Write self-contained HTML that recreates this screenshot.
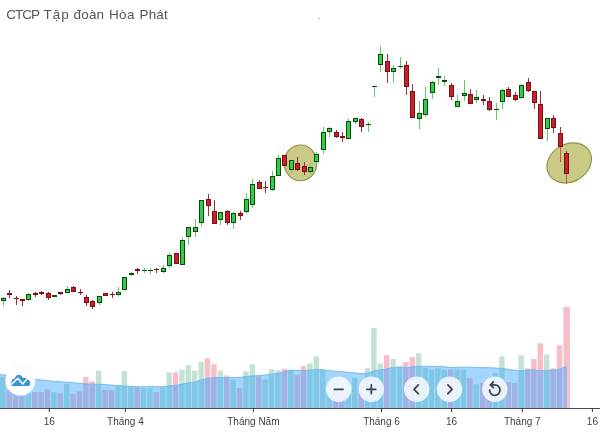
<!DOCTYPE html>
<html lang="vi"><head><meta charset="utf-8"><title>CTCP Tập đoàn Hòa Phát</title>
<style>
html,body{margin:0;padding:0;background:#fff;}
body{width:600px;height:432px;overflow:hidden;position:relative;font-family:"Liberation Sans",sans-serif;}
.title{position:absolute;left:0;top:4.7px;font-size:13.5px;line-height:20px;color:#555;white-space:nowrap;height:20px;width:200px;}
.title span{position:absolute;top:0;}
svg{position:absolute;left:0;top:0;display:block;}
.al{font-family:"Liberation Sans",sans-serif;font-size:10px;fill:#3f3f3f;}
</style></head><body>
<svg width="600" height="432" viewBox="0 0 600 432" shape-rendering="geometricPrecision">
<g id="volume">
<rect x="0.00" y="377.0" width="5.4" height="31.0" fill="#c4e2d2"/>
<rect x="6.40" y="390.0" width="5.4" height="18.0" fill="#f7bec8"/>
<rect x="12.80" y="392.0" width="5.4" height="16.0" fill="#f7bec8"/>
<rect x="19.20" y="396.0" width="5.4" height="12.0" fill="#f7bec8"/>
<rect x="25.60" y="393.7" width="5.4" height="14.3" fill="#c4e2d2"/>
<rect x="32.00" y="392.0" width="5.4" height="16.0" fill="#f7bec8"/>
<rect x="38.40" y="392.0" width="5.4" height="16.0" fill="#f7bec8"/>
<rect x="44.80" y="389.4" width="5.4" height="18.6" fill="#f7bec8"/>
<rect x="51.20" y="392.3" width="5.4" height="15.7" fill="#c4e2d2"/>
<rect x="57.60" y="393.3" width="5.4" height="14.7" fill="#f7bec8"/>
<rect x="64.00" y="384.0" width="5.4" height="24.0" fill="#c4e2d2"/>
<rect x="70.40" y="394.0" width="5.4" height="14.0" fill="#f7bec8"/>
<rect x="76.80" y="391.4" width="5.4" height="16.6" fill="#f7bec8"/>
<rect x="83.20" y="377.0" width="5.4" height="31.0" fill="#f7bec8"/>
<rect x="89.60" y="381.3" width="5.4" height="26.7" fill="#f7bec8"/>
<rect x="96.00" y="370.6" width="5.4" height="37.4" fill="#c4e2d2"/>
<rect x="102.40" y="390.0" width="5.4" height="18.0" fill="#f7bec8"/>
<rect x="108.80" y="390.3" width="5.4" height="17.7" fill="#f7bec8"/>
<rect x="115.20" y="386.0" width="5.4" height="22.0" fill="#c4e2d2"/>
<rect x="121.60" y="371.0" width="5.4" height="37.0" fill="#c4e2d2"/>
<rect x="128.00" y="386.3" width="5.4" height="21.7" fill="#c4e2d2"/>
<rect x="134.40" y="387.4" width="5.4" height="20.6" fill="#f7bec8"/>
<rect x="140.80" y="388.3" width="5.4" height="19.7" fill="#c4e2d2"/>
<rect x="147.20" y="388.3" width="5.4" height="19.7" fill="#c4e2d2"/>
<rect x="153.60" y="392.0" width="5.4" height="16.0" fill="#f7bec8"/>
<rect x="160.00" y="387.4" width="5.4" height="20.6" fill="#c4e2d2"/>
<rect x="166.40" y="372.3" width="5.4" height="35.7" fill="#c4e2d2"/>
<rect x="172.80" y="372.3" width="5.4" height="35.7" fill="#f7bec8"/>
<rect x="179.20" y="369.7" width="5.4" height="38.3" fill="#c4e2d2"/>
<rect x="185.60" y="365.3" width="5.4" height="42.7" fill="#c4e2d2"/>
<rect x="192.00" y="370.6" width="5.4" height="37.4" fill="#c4e2d2"/>
<rect x="198.40" y="361.7" width="5.4" height="46.3" fill="#c4e2d2"/>
<rect x="204.80" y="358.3" width="5.4" height="49.7" fill="#f7bec8"/>
<rect x="211.20" y="364.3" width="5.4" height="43.7" fill="#f7bec8"/>
<rect x="217.60" y="370.6" width="5.4" height="37.4" fill="#c4e2d2"/>
<rect x="224.00" y="375.4" width="5.4" height="32.6" fill="#f7bec8"/>
<rect x="230.40" y="379.7" width="5.4" height="28.3" fill="#c4e2d2"/>
<rect x="236.80" y="388.0" width="5.4" height="20.0" fill="#f7bec8"/>
<rect x="243.20" y="371.4" width="5.4" height="36.6" fill="#c4e2d2"/>
<rect x="249.60" y="364.3" width="5.4" height="43.7" fill="#c4e2d2"/>
<rect x="256.00" y="376.3" width="5.4" height="31.7" fill="#f7bec8"/>
<rect x="262.40" y="379.5" width="5.4" height="28.5" fill="#c4e2d2"/>
<rect x="268.80" y="369.0" width="5.4" height="39.0" fill="#c4e2d2"/>
<rect x="275.20" y="370.3" width="5.4" height="37.7" fill="#c4e2d2"/>
<rect x="281.60" y="368.7" width="5.4" height="39.3" fill="#f7bec8"/>
<rect x="288.00" y="369.7" width="5.4" height="38.3" fill="#c4e2d2"/>
<rect x="294.40" y="375.0" width="5.4" height="33.0" fill="#f7bec8"/>
<rect x="300.80" y="366.0" width="5.4" height="42.0" fill="#f7bec8"/>
<rect x="307.20" y="363.4" width="5.4" height="44.6" fill="#c4e2d2"/>
<rect x="313.60" y="356.3" width="5.4" height="51.7" fill="#c4e2d2"/>
<rect x="320.00" y="369.7" width="5.4" height="38.3" fill="#c4e2d2"/>
<rect x="326.40" y="395.0" width="5.4" height="13.0" fill="#c4e2d2"/>
<rect x="332.80" y="393.0" width="5.4" height="15.0" fill="#f7bec8"/>
<rect x="339.20" y="392.0" width="5.4" height="16.0" fill="#f7bec8"/>
<rect x="345.60" y="390.0" width="5.4" height="18.0" fill="#c4e2d2"/>
<rect x="352.00" y="377.7" width="5.4" height="30.3" fill="#c4e2d2"/>
<rect x="358.40" y="385.0" width="5.4" height="23.0" fill="#f7bec8"/>
<rect x="364.80" y="368.3" width="5.4" height="39.7" fill="#c4e2d2"/>
<rect x="371.20" y="328.0" width="5.4" height="80.0" fill="#c4e2d2"/>
<rect x="377.60" y="363.4" width="5.4" height="44.6" fill="#c4e2d2"/>
<rect x="384.00" y="355.2" width="5.4" height="52.8" fill="#f7bec8"/>
<rect x="390.40" y="359.0" width="5.4" height="49.0" fill="#c4e2d2"/>
<rect x="396.80" y="366.5" width="5.4" height="41.5" fill="#c4e2d2"/>
<rect x="403.20" y="362.2" width="5.4" height="45.8" fill="#f7bec8"/>
<rect x="409.60" y="357.2" width="5.4" height="50.8" fill="#f7bec8"/>
<rect x="416.00" y="353.3" width="5.4" height="54.7" fill="#c4e2d2"/>
<rect x="422.40" y="367.7" width="5.4" height="40.3" fill="#c4e2d2"/>
<rect x="428.80" y="369.7" width="5.4" height="38.3" fill="#c4e2d2"/>
<rect x="435.20" y="368.3" width="5.4" height="39.7" fill="#c4e2d2"/>
<rect x="441.60" y="369.7" width="5.4" height="38.3" fill="#c4e2d2"/>
<rect x="448.00" y="369.7" width="5.4" height="38.3" fill="#f7bec8"/>
<rect x="454.40" y="369.7" width="5.4" height="38.3" fill="#c4e2d2"/>
<rect x="460.80" y="369.7" width="5.4" height="38.3" fill="#c4e2d2"/>
<rect x="467.20" y="378.3" width="5.4" height="29.7" fill="#f7bec8"/>
<rect x="473.60" y="384.3" width="5.4" height="23.7" fill="#c4e2d2"/>
<rect x="480.00" y="383.0" width="5.4" height="25.0" fill="#f7bec8"/>
<rect x="486.40" y="385.0" width="5.4" height="23.0" fill="#f7bec8"/>
<rect x="492.80" y="373.0" width="5.4" height="35.0" fill="#c4e2d2"/>
<rect x="499.20" y="356.3" width="5.4" height="51.7" fill="#c4e2d2"/>
<rect x="505.60" y="382.0" width="5.4" height="26.0" fill="#f7bec8"/>
<rect x="512.00" y="383.0" width="5.4" height="25.0" fill="#f7bec8"/>
<rect x="518.40" y="355.2" width="5.4" height="52.8" fill="#c4e2d2"/>
<rect x="524.80" y="368.3" width="5.4" height="39.7" fill="#f7bec8"/>
<rect x="531.20" y="359.0" width="5.4" height="49.0" fill="#f7bec8"/>
<rect x="537.60" y="343.3" width="5.4" height="64.7" fill="#f7bec8"/>
<rect x="544.00" y="354.4" width="5.4" height="53.6" fill="#c4e2d2"/>
<rect x="550.40" y="368.3" width="5.4" height="39.7" fill="#f7bec8"/>
<rect x="556.80" y="345.3" width="5.4" height="62.7" fill="#f7bec8"/>
<rect x="563.40" y="307.0" width="6.6" height="101.0" fill="#f7bec8"/>
<clipPath id="ac"><polygon points="0,374.6 5,375.1 35,379.3 53,381.3 72,382.6 85,383.9 100,384.3 125,386.0 140,386.9 152,386.6 160,386.9 168,386.0 175,385.3 182,384.3 188,382.9 195,382.0 201,380.0 208,378.3 215,377.7 221,377.6 232,377.6 240,377.3 250,376.0 258,375.7 265,375.0 272,374.0 280,373.0 285,371.3 290,370.3 297,370.3 304,370.6 310,370.0 320,369.6 327,370.3 335,371.3 345,372.0 355,373.0 362,373.6 368,373.0 375,370.6 380,370.0 384,369.6 392,367.7 400,367.0 408,367.7 414,366.6 420,366.3 430,366.3 440,366.6 450,367.3 456,367.7 460,367.3 465,367.0 475,367.6 490,367.7 500,368.3 506,369.0 512,370.0 518,370.6 525,370.3 532,369.8 540,370.6 548,370.3 555,370.0 560,369.0 563,367.7 566.7,366.0 566.7,408 0,408"/></clipPath>
<g clip-path="url(#ac)"><rect x="0" y="300" width="600" height="108" fill="#a2d6fa"/>
<rect x="0.00" y="377.0" width="5.4" height="31.0" fill="#80c7e6"/>
<rect x="6.40" y="390.0" width="5.4" height="18.0" fill="#a1b1e3"/>
<rect x="12.80" y="392.0" width="5.4" height="16.0" fill="#a1b1e3"/>
<rect x="19.20" y="396.0" width="5.4" height="12.0" fill="#a1b1e3"/>
<rect x="25.60" y="393.7" width="5.4" height="14.3" fill="#80c7e6"/>
<rect x="32.00" y="392.0" width="5.4" height="16.0" fill="#a1b1e3"/>
<rect x="38.40" y="392.0" width="5.4" height="16.0" fill="#a1b1e3"/>
<rect x="44.80" y="389.4" width="5.4" height="18.6" fill="#a1b1e3"/>
<rect x="51.20" y="392.3" width="5.4" height="15.7" fill="#80c7e6"/>
<rect x="57.60" y="393.3" width="5.4" height="14.7" fill="#a1b1e3"/>
<rect x="64.00" y="384.0" width="5.4" height="24.0" fill="#80c7e6"/>
<rect x="70.40" y="394.0" width="5.4" height="14.0" fill="#a1b1e3"/>
<rect x="76.80" y="391.4" width="5.4" height="16.6" fill="#a1b1e3"/>
<rect x="83.20" y="377.0" width="5.4" height="31.0" fill="#a1b1e3"/>
<rect x="89.60" y="381.3" width="5.4" height="26.7" fill="#a1b1e3"/>
<rect x="96.00" y="370.6" width="5.4" height="37.4" fill="#80c7e6"/>
<rect x="102.40" y="390.0" width="5.4" height="18.0" fill="#a1b1e3"/>
<rect x="108.80" y="390.3" width="5.4" height="17.7" fill="#a1b1e3"/>
<rect x="115.20" y="386.0" width="5.4" height="22.0" fill="#80c7e6"/>
<rect x="121.60" y="371.0" width="5.4" height="37.0" fill="#80c7e6"/>
<rect x="128.00" y="386.3" width="5.4" height="21.7" fill="#80c7e6"/>
<rect x="134.40" y="387.4" width="5.4" height="20.6" fill="#a1b1e3"/>
<rect x="140.80" y="388.3" width="5.4" height="19.7" fill="#80c7e6"/>
<rect x="147.20" y="388.3" width="5.4" height="19.7" fill="#80c7e6"/>
<rect x="153.60" y="392.0" width="5.4" height="16.0" fill="#a1b1e3"/>
<rect x="160.00" y="387.4" width="5.4" height="20.6" fill="#80c7e6"/>
<rect x="166.40" y="372.3" width="5.4" height="35.7" fill="#80c7e6"/>
<rect x="172.80" y="372.3" width="5.4" height="35.7" fill="#a1b1e3"/>
<rect x="179.20" y="369.7" width="5.4" height="38.3" fill="#80c7e6"/>
<rect x="185.60" y="365.3" width="5.4" height="42.7" fill="#80c7e6"/>
<rect x="192.00" y="370.6" width="5.4" height="37.4" fill="#80c7e6"/>
<rect x="198.40" y="361.7" width="5.4" height="46.3" fill="#80c7e6"/>
<rect x="204.80" y="358.3" width="5.4" height="49.7" fill="#a1b1e3"/>
<rect x="211.20" y="364.3" width="5.4" height="43.7" fill="#a1b1e3"/>
<rect x="217.60" y="370.6" width="5.4" height="37.4" fill="#80c7e6"/>
<rect x="224.00" y="375.4" width="5.4" height="32.6" fill="#a1b1e3"/>
<rect x="230.40" y="379.7" width="5.4" height="28.3" fill="#80c7e6"/>
<rect x="236.80" y="388.0" width="5.4" height="20.0" fill="#a1b1e3"/>
<rect x="243.20" y="371.4" width="5.4" height="36.6" fill="#80c7e6"/>
<rect x="249.60" y="364.3" width="5.4" height="43.7" fill="#80c7e6"/>
<rect x="256.00" y="376.3" width="5.4" height="31.7" fill="#a1b1e3"/>
<rect x="262.40" y="379.5" width="5.4" height="28.5" fill="#80c7e6"/>
<rect x="268.80" y="369.0" width="5.4" height="39.0" fill="#80c7e6"/>
<rect x="275.20" y="370.3" width="5.4" height="37.7" fill="#80c7e6"/>
<rect x="281.60" y="368.7" width="5.4" height="39.3" fill="#a1b1e3"/>
<rect x="288.00" y="369.7" width="5.4" height="38.3" fill="#80c7e6"/>
<rect x="294.40" y="375.0" width="5.4" height="33.0" fill="#a1b1e3"/>
<rect x="300.80" y="366.0" width="5.4" height="42.0" fill="#a1b1e3"/>
<rect x="307.20" y="363.4" width="5.4" height="44.6" fill="#80c7e6"/>
<rect x="313.60" y="356.3" width="5.4" height="51.7" fill="#80c7e6"/>
<rect x="320.00" y="369.7" width="5.4" height="38.3" fill="#80c7e6"/>
<rect x="326.40" y="395.0" width="5.4" height="13.0" fill="#80c7e6"/>
<rect x="332.80" y="393.0" width="5.4" height="15.0" fill="#a1b1e3"/>
<rect x="339.20" y="392.0" width="5.4" height="16.0" fill="#a1b1e3"/>
<rect x="345.60" y="390.0" width="5.4" height="18.0" fill="#80c7e6"/>
<rect x="352.00" y="377.7" width="5.4" height="30.3" fill="#80c7e6"/>
<rect x="358.40" y="385.0" width="5.4" height="23.0" fill="#a1b1e3"/>
<rect x="364.80" y="368.3" width="5.4" height="39.7" fill="#80c7e6"/>
<rect x="371.20" y="328.0" width="5.4" height="80.0" fill="#80c7e6"/>
<rect x="377.60" y="363.4" width="5.4" height="44.6" fill="#80c7e6"/>
<rect x="384.00" y="355.2" width="5.4" height="52.8" fill="#a1b1e3"/>
<rect x="390.40" y="359.0" width="5.4" height="49.0" fill="#80c7e6"/>
<rect x="396.80" y="366.5" width="5.4" height="41.5" fill="#80c7e6"/>
<rect x="403.20" y="362.2" width="5.4" height="45.8" fill="#a1b1e3"/>
<rect x="409.60" y="357.2" width="5.4" height="50.8" fill="#a1b1e3"/>
<rect x="416.00" y="353.3" width="5.4" height="54.7" fill="#80c7e6"/>
<rect x="422.40" y="367.7" width="5.4" height="40.3" fill="#80c7e6"/>
<rect x="428.80" y="369.7" width="5.4" height="38.3" fill="#80c7e6"/>
<rect x="435.20" y="368.3" width="5.4" height="39.7" fill="#80c7e6"/>
<rect x="441.60" y="369.7" width="5.4" height="38.3" fill="#80c7e6"/>
<rect x="448.00" y="369.7" width="5.4" height="38.3" fill="#a1b1e3"/>
<rect x="454.40" y="369.7" width="5.4" height="38.3" fill="#80c7e6"/>
<rect x="460.80" y="369.7" width="5.4" height="38.3" fill="#80c7e6"/>
<rect x="467.20" y="378.3" width="5.4" height="29.7" fill="#a1b1e3"/>
<rect x="473.60" y="384.3" width="5.4" height="23.7" fill="#80c7e6"/>
<rect x="480.00" y="383.0" width="5.4" height="25.0" fill="#a1b1e3"/>
<rect x="486.40" y="385.0" width="5.4" height="23.0" fill="#a1b1e3"/>
<rect x="492.80" y="373.0" width="5.4" height="35.0" fill="#80c7e6"/>
<rect x="499.20" y="356.3" width="5.4" height="51.7" fill="#80c7e6"/>
<rect x="505.60" y="382.0" width="5.4" height="26.0" fill="#a1b1e3"/>
<rect x="512.00" y="383.0" width="5.4" height="25.0" fill="#a1b1e3"/>
<rect x="518.40" y="355.2" width="5.4" height="52.8" fill="#80c7e6"/>
<rect x="524.80" y="368.3" width="5.4" height="39.7" fill="#a1b1e3"/>
<rect x="531.20" y="359.0" width="5.4" height="49.0" fill="#a1b1e3"/>
<rect x="537.60" y="343.3" width="5.4" height="64.7" fill="#a1b1e3"/>
<rect x="544.00" y="354.4" width="5.4" height="53.6" fill="#80c7e6"/>
<rect x="550.40" y="368.3" width="5.4" height="39.7" fill="#a1b1e3"/>
<rect x="556.80" y="345.3" width="5.4" height="62.7" fill="#a1b1e3"/>
<rect x="563.40" y="307.0" width="6.6" height="101.0" fill="#a1b1e3"/></g>
<polyline points="0,374.6 5,375.1 35,379.3 53,381.3 72,382.6 85,383.9 100,384.3 125,386.0 140,386.9 152,386.6 160,386.9 168,386.0 175,385.3 182,384.3 188,382.9 195,382.0 201,380.0 208,378.3 215,377.7 221,377.6 232,377.6 240,377.3 250,376.0 258,375.7 265,375.0 272,374.0 280,373.0 285,371.3 290,370.3 297,370.3 304,370.6 310,370.0 320,369.6 327,370.3 335,371.3 345,372.0 355,373.0 362,373.6 368,373.0 375,370.6 380,370.0 384,369.6 392,367.7 400,367.0 408,367.7 414,366.6 420,366.3 430,366.3 440,366.6 450,367.3 456,367.7 460,367.3 465,367.0 475,367.6 490,367.7 500,368.3 506,369.0 512,370.0 518,370.6 525,370.3 532,369.8 540,370.6 548,370.3 555,370.0 560,369.0 563,367.7 566.7,366.0" fill="none" stroke="#78baef" stroke-width="1"/>
</g>
<g id="candles">
<ellipse cx="300.5" cy="162.9" rx="16.3" ry="17.9" fill="#c8ca86" stroke="#8c9040" stroke-width="1.1"/>
<ellipse cx="569.2" cy="162.9" rx="23.3" ry="18.8" transform="rotate(-30 569.2 162.9)" fill="#c8ca86" stroke="#8c9040" stroke-width="1.1"/>
<rect x="3" y="297" width="1" height="9" fill="#62c96e"/>
<rect x="1" y="298" width="5" height="3" fill="#0a4a0e"/>
<rect x="2" y="299" width="3" height="1" fill="#34cc44"/>
<rect x="9" y="290" width="1" height="8" fill="#9c3038"/>
<rect x="7" y="293" width="5" height="2" fill="#7a1015"/>
<rect x="16" y="296" width="1" height="9" fill="#9c3038"/>
<rect x="14" y="298" width="5" height="1" fill="#7a1015"/>
<rect x="22" y="299" width="1" height="7" fill="#9c3038"/>
<rect x="20" y="299" width="5" height="2" fill="#7a1015"/>
<rect x="28" y="293" width="1" height="8" fill="#62c96e"/>
<rect x="26" y="294" width="5" height="6" fill="#0a4a0e"/>
<rect x="27" y="295" width="3" height="4" fill="#34cc44"/>
<rect x="35" y="292" width="1" height="5" fill="#9c3038"/>
<rect x="33" y="293" width="5" height="2" fill="#7a1015"/>
<rect x="41" y="291" width="1" height="4" fill="#9c3038"/>
<rect x="39" y="292" width="5" height="2" fill="#7a1015"/>
<rect x="48" y="292" width="1" height="8" fill="#9c3038"/>
<rect x="46" y="293" width="5" height="5" fill="#7a1015"/>
<rect x="47" y="294" width="3" height="3" fill="#c8202a"/>
<rect x="54" y="295" width="1" height="2" fill="#62c96e"/>
<rect x="52" y="295" width="5" height="2" fill="#0a4a0e"/>
<rect x="60" y="292" width="1" height="3" fill="#9c3038"/>
<rect x="58" y="292" width="5" height="2" fill="#7a1015"/>
<rect x="67" y="286" width="1" height="7" fill="#62c96e"/>
<rect x="65" y="289" width="5" height="4" fill="#0a4a0e"/>
<rect x="66" y="290" width="3" height="2" fill="#34cc44"/>
<rect x="73" y="286" width="1" height="6" fill="#9c3038"/>
<rect x="71" y="287" width="5" height="5" fill="#7a1015"/>
<rect x="72" y="288" width="3" height="3" fill="#c8202a"/>
<rect x="80" y="289" width="1" height="6" fill="#9c3038"/>
<rect x="78" y="292" width="5" height="1" fill="#7a1015"/>
<rect x="86" y="295" width="1" height="11" fill="#9c3038"/>
<rect x="84" y="297" width="5" height="6" fill="#7a1015"/>
<rect x="85" y="298" width="3" height="4" fill="#c8202a"/>
<rect x="92" y="300" width="1" height="9" fill="#9c3038"/>
<rect x="90" y="301" width="5" height="6" fill="#7a1015"/>
<rect x="91" y="302" width="3" height="4" fill="#c8202a"/>
<rect x="99" y="296" width="1" height="9" fill="#62c96e"/>
<rect x="97" y="296" width="5" height="7" fill="#0a4a0e"/>
<rect x="98" y="297" width="3" height="5" fill="#34cc44"/>
<rect x="105" y="293" width="1" height="3" fill="#9c3038"/>
<rect x="103" y="293" width="5" height="3" fill="#7a1015"/>
<rect x="104" y="294" width="3" height="1" fill="#c8202a"/>
<rect x="112" y="292" width="1" height="6" fill="#9c3038"/>
<rect x="110" y="294" width="5" height="1" fill="#7a1015"/>
<rect x="118" y="287" width="1" height="9" fill="#62c96e"/>
<rect x="116" y="292" width="5" height="3" fill="#0a4a0e"/>
<rect x="117" y="293" width="3" height="1" fill="#34cc44"/>
<rect x="124" y="277" width="1" height="13" fill="#62c96e"/>
<rect x="122" y="277" width="5" height="13" fill="#0a4a0e"/>
<rect x="123" y="278" width="3" height="11" fill="#34cc44"/>
<rect x="131" y="272" width="1" height="4" fill="#62c96e"/>
<rect x="129" y="273" width="5" height="2" fill="#0a4a0e"/>
<rect x="137" y="268" width="1" height="6" fill="#9c3038"/>
<rect x="135" y="269" width="5" height="2" fill="#7a1015"/>
<rect x="144" y="268" width="1" height="5" fill="#62c96e"/>
<rect x="142" y="270" width="5" height="1" fill="#0a4a0e"/>
<rect x="150" y="268" width="1" height="6" fill="#62c96e"/>
<rect x="148" y="270" width="5" height="1" fill="#0a4a0e"/>
<rect x="156" y="268" width="1" height="5" fill="#9c3038"/>
<rect x="154" y="269" width="5" height="1" fill="#7a1015"/>
<rect x="163" y="265" width="1" height="8" fill="#62c96e"/>
<rect x="161" y="268" width="5" height="4" fill="#0a4a0e"/>
<rect x="162" y="269" width="3" height="2" fill="#34cc44"/>
<rect x="169" y="253" width="1" height="15" fill="#62c96e"/>
<rect x="167" y="255" width="5" height="11" fill="#0a4a0e"/>
<rect x="168" y="256" width="3" height="9" fill="#34cc44"/>
<rect x="176" y="253" width="1" height="11" fill="#9c3038"/>
<rect x="174" y="253" width="5" height="11" fill="#7a1015"/>
<rect x="175" y="254" width="3" height="9" fill="#c8202a"/>
<rect x="182" y="237" width="1" height="28" fill="#62c96e"/>
<rect x="180" y="240" width="5" height="25" fill="#0a4a0e"/>
<rect x="181" y="241" width="3" height="23" fill="#34cc44"/>
<rect x="188" y="227" width="1" height="18" fill="#62c96e"/>
<rect x="186" y="227" width="5" height="10" fill="#0a4a0e"/>
<rect x="187" y="228" width="3" height="8" fill="#34cc44"/>
<rect x="195" y="219" width="1" height="18" fill="#62c96e"/>
<rect x="193" y="227" width="5" height="5" fill="#0a4a0e"/>
<rect x="194" y="228" width="3" height="3" fill="#34cc44"/>
<rect x="201" y="200" width="1" height="27" fill="#62c96e"/>
<rect x="199" y="200" width="5" height="23" fill="#0a4a0e"/>
<rect x="200" y="201" width="3" height="21" fill="#34cc44"/>
<rect x="208" y="194" width="1" height="22" fill="#9c3038"/>
<rect x="206" y="199" width="5" height="7" fill="#7a1015"/>
<rect x="207" y="200" width="3" height="5" fill="#c8202a"/>
<rect x="214" y="200" width="1" height="24" fill="#9c3038"/>
<rect x="212" y="211" width="5" height="13" fill="#7a1015"/>
<rect x="213" y="212" width="3" height="11" fill="#c8202a"/>
<rect x="220" y="212" width="1" height="13" fill="#62c96e"/>
<rect x="218" y="212" width="5" height="8" fill="#0a4a0e"/>
<rect x="219" y="213" width="3" height="6" fill="#34cc44"/>
<rect x="227" y="210" width="1" height="15" fill="#9c3038"/>
<rect x="225" y="211" width="5" height="12" fill="#7a1015"/>
<rect x="226" y="212" width="3" height="10" fill="#c8202a"/>
<rect x="233" y="212" width="1" height="17" fill="#62c96e"/>
<rect x="231" y="213" width="5" height="10" fill="#0a4a0e"/>
<rect x="232" y="214" width="3" height="8" fill="#34cc44"/>
<rect x="240" y="211" width="1" height="9" fill="#9c3038"/>
<rect x="238" y="213" width="5" height="3" fill="#7a1015"/>
<rect x="239" y="214" width="3" height="1" fill="#c8202a"/>
<rect x="246" y="193" width="1" height="20" fill="#62c96e"/>
<rect x="244" y="199" width="5" height="13" fill="#0a4a0e"/>
<rect x="245" y="200" width="3" height="11" fill="#34cc44"/>
<rect x="252" y="179" width="1" height="29" fill="#62c96e"/>
<rect x="250" y="184" width="5" height="21" fill="#0a4a0e"/>
<rect x="251" y="185" width="3" height="19" fill="#34cc44"/>
<rect x="259" y="180" width="1" height="9" fill="#9c3038"/>
<rect x="257" y="182" width="5" height="7" fill="#7a1015"/>
<rect x="258" y="183" width="3" height="5" fill="#c8202a"/>
<rect x="265" y="181" width="1" height="12" fill="#9c3038"/>
<rect x="263" y="187" width="5" height="1" fill="#7a1015"/>
<rect x="272" y="171" width="1" height="20" fill="#62c96e"/>
<rect x="270" y="176" width="5" height="14" fill="#0a4a0e"/>
<rect x="271" y="177" width="3" height="12" fill="#34cc44"/>
<rect x="278" y="155" width="1" height="21" fill="#62c96e"/>
<rect x="276" y="158" width="5" height="18" fill="#0a4a0e"/>
<rect x="277" y="159" width="3" height="16" fill="#34cc44"/>
<rect x="284" y="155" width="1" height="11" fill="#9c3038"/>
<rect x="282" y="155" width="5" height="11" fill="#7a1015"/>
<rect x="283" y="156" width="3" height="9" fill="#c8202a"/>
<rect x="291" y="160" width="1" height="13" fill="#62c96e"/>
<rect x="289" y="160" width="5" height="10" fill="#0a4a0e"/>
<rect x="290" y="161" width="3" height="8" fill="#34cc44"/>
<rect x="297" y="157" width="1" height="14" fill="#9c3038"/>
<rect x="295" y="163" width="5" height="7" fill="#7a1015"/>
<rect x="296" y="164" width="3" height="5" fill="#c8202a"/>
<rect x="304" y="162" width="1" height="13" fill="#9c3038"/>
<rect x="302" y="166" width="5" height="6" fill="#7a1015"/>
<rect x="303" y="167" width="3" height="4" fill="#c8202a"/>
<rect x="310" y="163" width="1" height="11" fill="#62c96e"/>
<rect x="308" y="167" width="5" height="5" fill="#0a4a0e"/>
<rect x="309" y="168" width="3" height="3" fill="#34cc44"/>
<rect x="316" y="152" width="1" height="11" fill="#62c96e"/>
<rect x="314" y="154" width="5" height="8" fill="#0a4a0e"/>
<rect x="315" y="155" width="3" height="6" fill="#34cc44"/>
<rect x="323" y="127" width="1" height="27" fill="#62c96e"/>
<rect x="321" y="132" width="5" height="18" fill="#0a4a0e"/>
<rect x="322" y="133" width="3" height="16" fill="#34cc44"/>
<rect x="329" y="127" width="1" height="10" fill="#62c96e"/>
<rect x="327" y="128" width="5" height="4" fill="#0a4a0e"/>
<rect x="328" y="129" width="3" height="2" fill="#34cc44"/>
<rect x="336" y="130" width="1" height="8" fill="#9c3038"/>
<rect x="334" y="132" width="5" height="5" fill="#7a1015"/>
<rect x="335" y="133" width="3" height="3" fill="#c8202a"/>
<rect x="342" y="132" width="1" height="10" fill="#9c3038"/>
<rect x="340" y="136" width="5" height="2" fill="#7a1015"/>
<rect x="348" y="119" width="1" height="20" fill="#62c96e"/>
<rect x="346" y="121" width="5" height="18" fill="#0a4a0e"/>
<rect x="347" y="122" width="3" height="16" fill="#34cc44"/>
<rect x="355" y="118" width="1" height="6" fill="#62c96e"/>
<rect x="353" y="118" width="5" height="4" fill="#0a4a0e"/>
<rect x="354" y="119" width="3" height="2" fill="#34cc44"/>
<rect x="361" y="118" width="1" height="14" fill="#9c3038"/>
<rect x="359" y="119" width="5" height="8" fill="#7a1015"/>
<rect x="360" y="120" width="3" height="6" fill="#c8202a"/>
<rect x="368" y="122" width="1" height="10" fill="#62c96e"/>
<rect x="366" y="124" width="5" height="1" fill="#0a4a0e"/>
<rect x="374" y="86" width="1" height="11" fill="#62c96e"/>
<rect x="372" y="86" width="5" height="1" fill="#0a4a0e"/>
<rect x="380" y="46" width="1" height="26" fill="#62c96e"/>
<rect x="378" y="54" width="5" height="11" fill="#0a4a0e"/>
<rect x="379" y="55" width="3" height="9" fill="#34cc44"/>
<rect x="387" y="54" width="1" height="29" fill="#9c3038"/>
<rect x="385" y="61" width="5" height="11" fill="#7a1015"/>
<rect x="386" y="62" width="3" height="9" fill="#c8202a"/>
<rect x="393" y="65" width="1" height="18" fill="#62c96e"/>
<rect x="391" y="68" width="5" height="4" fill="#0a4a0e"/>
<rect x="392" y="69" width="3" height="2" fill="#34cc44"/>
<rect x="400" y="57" width="1" height="12" fill="#62c96e"/>
<rect x="398" y="66" width="5" height="1" fill="#0a4a0e"/>
<rect x="406" y="61" width="1" height="34" fill="#9c3038"/>
<rect x="404" y="65" width="5" height="22" fill="#7a1015"/>
<rect x="405" y="66" width="3" height="20" fill="#c8202a"/>
<rect x="412" y="84" width="1" height="34" fill="#9c3038"/>
<rect x="410" y="91" width="5" height="27" fill="#7a1015"/>
<rect x="411" y="92" width="3" height="25" fill="#c8202a"/>
<rect x="419" y="101" width="1" height="28" fill="#62c96e"/>
<rect x="417" y="113" width="5" height="6" fill="#0a4a0e"/>
<rect x="418" y="114" width="3" height="4" fill="#34cc44"/>
<rect x="425" y="87" width="1" height="30" fill="#62c96e"/>
<rect x="423" y="99" width="5" height="16" fill="#0a4a0e"/>
<rect x="424" y="100" width="3" height="14" fill="#34cc44"/>
<rect x="432" y="81" width="1" height="18" fill="#62c96e"/>
<rect x="430" y="82" width="5" height="11" fill="#0a4a0e"/>
<rect x="431" y="83" width="3" height="9" fill="#34cc44"/>
<rect x="438" y="68" width="1" height="17" fill="#62c96e"/>
<rect x="436" y="76" width="5" height="2" fill="#0a4a0e"/>
<rect x="444" y="76" width="1" height="10" fill="#62c96e"/>
<rect x="442" y="80" width="5" height="2" fill="#0a4a0e"/>
<rect x="451" y="83" width="1" height="17" fill="#9c3038"/>
<rect x="449" y="85" width="5" height="12" fill="#7a1015"/>
<rect x="450" y="86" width="3" height="10" fill="#c8202a"/>
<rect x="457" y="95" width="1" height="12" fill="#62c96e"/>
<rect x="455" y="101" width="5" height="6" fill="#0a4a0e"/>
<rect x="456" y="102" width="3" height="4" fill="#34cc44"/>
<rect x="464" y="80" width="1" height="21" fill="#62c96e"/>
<rect x="462" y="93" width="5" height="3" fill="#0a4a0e"/>
<rect x="463" y="94" width="3" height="1" fill="#34cc44"/>
<rect x="470" y="89" width="1" height="15" fill="#9c3038"/>
<rect x="468" y="94" width="5" height="10" fill="#7a1015"/>
<rect x="469" y="95" width="3" height="8" fill="#c8202a"/>
<rect x="476" y="90" width="1" height="13" fill="#62c96e"/>
<rect x="474" y="97" width="5" height="3" fill="#0a4a0e"/>
<rect x="475" y="98" width="3" height="1" fill="#34cc44"/>
<rect x="483" y="95" width="1" height="10" fill="#9c3038"/>
<rect x="481" y="99" width="5" height="2" fill="#7a1015"/>
<rect x="489" y="97" width="1" height="14" fill="#9c3038"/>
<rect x="487" y="101" width="5" height="9" fill="#7a1015"/>
<rect x="488" y="102" width="3" height="7" fill="#c8202a"/>
<rect x="496" y="103" width="1" height="17" fill="#62c96e"/>
<rect x="494" y="109" width="5" height="1" fill="#0a4a0e"/>
<rect x="502" y="89" width="1" height="20" fill="#62c96e"/>
<rect x="500" y="90" width="5" height="12" fill="#0a4a0e"/>
<rect x="501" y="91" width="3" height="10" fill="#34cc44"/>
<rect x="508" y="87" width="1" height="10" fill="#9c3038"/>
<rect x="506" y="89" width="5" height="8" fill="#7a1015"/>
<rect x="507" y="90" width="3" height="6" fill="#c8202a"/>
<rect x="515" y="92" width="1" height="9" fill="#9c3038"/>
<rect x="513" y="95" width="5" height="5" fill="#7a1015"/>
<rect x="514" y="96" width="3" height="3" fill="#c8202a"/>
<rect x="521" y="84" width="1" height="15" fill="#62c96e"/>
<rect x="519" y="85" width="5" height="13" fill="#0a4a0e"/>
<rect x="520" y="86" width="3" height="11" fill="#34cc44"/>
<rect x="528" y="78" width="1" height="14" fill="#9c3038"/>
<rect x="526" y="82" width="5" height="9" fill="#7a1015"/>
<rect x="527" y="83" width="3" height="7" fill="#c8202a"/>
<rect x="534" y="91" width="1" height="18" fill="#9c3038"/>
<rect x="532" y="91" width="5" height="12" fill="#7a1015"/>
<rect x="533" y="92" width="3" height="10" fill="#c8202a"/>
<rect x="540" y="91" width="1" height="48" fill="#9c3038"/>
<rect x="538" y="104" width="5" height="35" fill="#7a1015"/>
<rect x="539" y="105" width="3" height="33" fill="#c8202a"/>
<rect x="547" y="118" width="1" height="23" fill="#62c96e"/>
<rect x="545" y="118" width="5" height="11" fill="#0a4a0e"/>
<rect x="546" y="119" width="3" height="9" fill="#34cc44"/>
<rect x="553" y="115" width="1" height="18" fill="#9c3038"/>
<rect x="551" y="118" width="5" height="10" fill="#7a1015"/>
<rect x="552" y="119" width="3" height="8" fill="#c8202a"/>
<rect x="560" y="127" width="1" height="35" fill="#9c3038"/>
<rect x="558" y="133" width="5" height="14" fill="#7a1015"/>
<rect x="559" y="134" width="3" height="12" fill="#c8202a"/>
<rect x="566" y="151" width="1" height="33" fill="#9c3038"/>
<rect x="564" y="153" width="5" height="21" fill="#7a1015"/>
<rect x="565" y="154" width="3" height="19" fill="#c8202a"/>
<rect x="560" y="147" width="1" height="14" fill="#c0622c"/>
<rect x="566" y="174" width="1" height="10" fill="#b8602a"/>
</g>
<rect x="318" y="18" width="2" height="1" fill="#b4b4b4"/>
<g id="axis">
<rect x="0" y="408" width="600" height="1" fill="#4a4a4a"/>
<rect x="48.8" y="408" width="1" height="4" fill="#333"/>
<text x="49.3" y="425.4" text-anchor="middle" class="al">16</text>
<rect x="124.9" y="408" width="1" height="4" fill="#333"/>
<text x="125.4" y="425.4" text-anchor="middle" class="al">Tháng 4</text>
<rect x="252.9" y="408" width="1" height="4" fill="#333"/>
<text x="253.4" y="425.4" text-anchor="middle" class="al">Tháng Năm</text>
<rect x="381.0" y="408" width="1" height="4" fill="#333"/>
<text x="381.5" y="425.4" text-anchor="middle" class="al">Tháng 6</text>
<rect x="451.1" y="408" width="1" height="4" fill="#333"/>
<text x="451.6" y="425.4" text-anchor="middle" class="al">16</text>
<rect x="521.8" y="408" width="1" height="4" fill="#333"/>
<text x="522.3" y="425.4" text-anchor="middle" class="al">Tháng 7</text>
<rect x="591.9" y="408" width="1" height="4" fill="#333"/>
<text x="592.4" y="425.4" text-anchor="middle" class="al">16</text>
</g>
<g id="buttons">
<g transform="translate(338.7,389.3)"><circle r="12.7" fill="#fbfaff" fill-opacity="0.84"/><path d="M-4.4,0H4.4" stroke="#3f434a" stroke-width="1.8" fill="none" stroke-linecap="round" stroke-linejoin="round"/></g>
<g transform="translate(371.3,389.3)"><circle r="12.7" fill="#fbfaff" fill-opacity="0.84"/><path d="M-4.4,0H4.4M0,-4.4V4.4" stroke="#3f434a" stroke-width="1.8" fill="none" stroke-linecap="round" stroke-linejoin="round"/></g>
<g transform="translate(416.7,389.3)"><circle r="12.7" fill="#fbfaff" fill-opacity="0.84"/><path d="M1.6,-4.4L-2.6,0L1.6,4.4" stroke="#3f434a" stroke-width="1.8" fill="none" stroke-linecap="round" stroke-linejoin="round"/></g>
<g transform="translate(449.5,389.3)"><circle r="12.7" fill="#fbfaff" fill-opacity="0.84"/><path d="M-1.6,-4.4L2.6,0L-1.6,4.4" stroke="#3f434a" stroke-width="1.8" fill="none" stroke-linecap="round" stroke-linejoin="round"/></g>
<g transform="translate(494.8,389.3)"><circle r="12.7" fill="#fbfaff" fill-opacity="0.84"/><path d="M-4.2,-4.4H0A5.2,5.2 0 1 1 -5.2,0.8" stroke="#3f434a" stroke-width="1.8" fill="none" stroke-linecap="round" stroke-linejoin="round"/><path d="M-1.5,-7.3L-4.3,-4.4L-1.4,-1.6" stroke="#3f434a" stroke-width="1.8" fill="none" stroke-linecap="round" stroke-linejoin="round"/></g>
</g>
<g>
<circle cx="20.3" cy="380.8" r="15.3" fill="#e6edf4" fill-opacity="0.55"/>
<circle cx="20.3" cy="380.7" r="14.5" fill="#fff"/>
<path d="M12.2,386 C10.6,386 10.3,382.6 11.6,381.4 C11.8,379.6 13.4,378.5 14.6,378.8 C15.2,376.4 17,374.8 18.6,374.8 C20.6,374.8 22.4,376.4 23,378.3 C24,377.5 26,377.5 27.2,378.5 C29,379.6 30.4,381.6 30.2,383.4 C30.2,385 29.4,386 28,386 Z" fill="#3a96d2"/>
<polyline points="11.2,384.6 17.9,378.3 22.6,383.9 28,378" fill="none" stroke="#fff" stroke-width="1.5" stroke-linejoin="round"/>
</g>
</svg>
<div class="title"><span id="w1" style="left:6.2px;letter-spacing:-1.0px">CTCP</span> <span id="w2" style="left:43.6px;letter-spacing:0.9px">Tập</span> <span id="w3" style="left:73.6px;letter-spacing:0.15px">đoàn</span> <span id="w4" style="left:109px;letter-spacing:0.35px">Hòa</span> <span id="w5" style="left:139.6px;letter-spacing:0.1px">Phát</span></div>
</body></html>
